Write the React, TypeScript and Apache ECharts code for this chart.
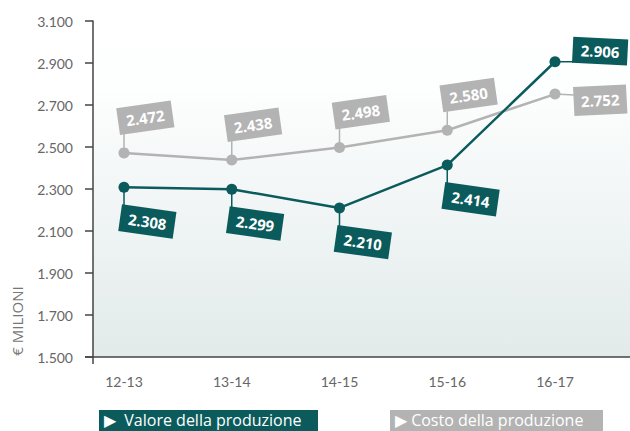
import React, { useEffect, useRef } from "react";
import * as echarts from "echarts";

const categories = ["12-13", "13-14", "14-15", "15-16", "16-17"];
const valoreProduzione = [2308, 2299, 2210, 2414, 2906];
const costoProduzione = [2472, 2438, 2498, 2580, 2752];
const yMin = 1500;
const yMax = 3100;
const yStep = 200;
const legendNames = ["Valore della produzione", "Costo della produzione"];
const axisName = "€ MILIONI";

const TEAL = "#0b5b5d";
const GRAY = "#b3b3b3";
const FONT = "Lato";
const FONT2 = "'Open Sans'";

const tealPlace = ["down", "down", "down", "down", "rightUp"];
const grayPlace = ["up", "up", "up", "up", "rightDown"];

const fmt = (v: number) => (v / 1000).toFixed(3);

function makeLabelSeries(values: number[], places: string[], color: string) {
  return {
    type: "custom",
    z: 1,
    silent: true,
    data: values.map((v, i) => [i, v]),
    renderItem: (params: any, api: any) => {
      const i = api.value(0);
      const v = api.value(1);
      const [px, py] = api.coord([i, v]);
      const place = places[i];
      const txt = fmt(v);
      const textStyle = {
        text: txt,
        fill: "#ffffff",
        font: `bold 15px ${FONT2}`,
        align: "center",
        verticalAlign: "middle",
      };
      let line: any;
      let box: any;
      if (place === "up") {
        line = { x1: px, y1: py, x2: px, y2: py - 19 };
        box = {
          x: px - 4, y: py - 18, rotation: 0.14,
          rect: { x: 0, y: -27, width: 55, height: 27 },
          tx: 27.5, ty: -13.5,
        };
      } else if (place === "down") {
        line = { x1: px, y1: py, x2: px, y2: py + 18 };
        box = {
          x: px - 2, y: py + 17, rotation: -0.14,
          rect: { x: 0, y: 0, width: 55, height: 27 },
          tx: 27.5, ty: 13.5,
        };
      } else if (place === "rightUp") {
        line = { x1: px, y1: py, x2: px + 18, y2: py };
        box = {
          x: px + 17, y: py + 1, rotation: -0.05,
          rect: { x: 0, y: -26, width: 55, height: 26 },
          tx: 27.5, ty: -13,
        };
      } else {
        line = { x1: px, y1: py, x2: px + 19, y2: py + 1 };
        box = {
          x: px + 18, y: py - 7, rotation: 0.05,
          rect: { x: 0, y: 0, width: 53, height: 29 },
          tx: 26.5, ty: 14.5,
        };
      }
      return {
        type: "group",
        children: [
          {
            type: "line",
            shape: line,
            style: { stroke: color, lineWidth: 1.5 },
          },
          {
            type: "group",
            x: box.x,
            y: box.y,
            rotation: box.rotation,
            children: [
              { type: "rect", shape: box.rect, style: { fill: color } },
              { type: "text", x: box.tx, y: box.ty, style: textStyle },
            ],
          },
        ],
      };
    },
  };
}

export default function App() {
  const ref = useRef<HTMLDivElement>(null);
  useEffect(() => {
    if (!ref.current) return;
    const chart = echarts.init(ref.current, null, { renderer: "svg" });
    const option: any = {
      animation: false,
      grid: { left: 124, right: 75, top: 21, bottom: 74, containLabel: false },
      xAxis: {
        type: "category",
        data: categories,
        boundaryGap: false,
        axisLine: { show: false },
        axisTick: { show: false },
        axisLabel: {
          color: "#666666",
          fontFamily: FONT,
          fontSize: 14,
          margin: 17,
        },
      },
      yAxis: {
        type: "value",
        min: yMin,
        max: yMax,
        interval: yStep,
        offset: 31,
        splitLine: { show: false },
        axisLine: { show: true, lineStyle: { color: "#444444", width: 1.5 } },
        axisTick: { show: true, length: 8, lineStyle: { color: "#444444", width: 1.5 } },
        axisLabel: {
          color: "#666666",
          fontFamily: FONT,
          fontSize: 14,
          margin: 20,
          formatter: (v: number) => fmt(v),
        },
      },
      graphic: [
        {
          type: "rect",
          z: -10,
          shape: { x: 93, y: 21, width: 537, height: 336 },
          style: {
            fill: new echarts.graphic.LinearGradient(0, 0, 0, 1, [
              { offset: 0, color: "#ffffff" },
              { offset: 0.2, color: "#fdfefe" },
              { offset: 1, color: "#e2eaea" },
            ]),
          },
        },
        {
          type: "line",
          z: 10,
          shape: { x1: 85, y1: 357, x2: 630, y2: 357 },
          style: { stroke: "#444444", lineWidth: 1.5 },
        },
        {
          type: "line",
          z: 10,
          shape: { x1: 93, y1: 357, x2: 93, y2: 364 },
          style: { stroke: "#444444", lineWidth: 1.5 },
        },
        {
          type: "text",
          x: 17,
          y: 321,
          rotation: Math.PI / 2,
          style: {
            text: axisName,
            fill: "#777777",
            font: `15px ${FONT2}`,
            align: "center",
            verticalAlign: "middle",
          },
        },
        {
          type: "rect",
          shape: { x: 99, y: 410, width: 219, height: 24 },
          style: { fill: TEAL },
        },
        {
          type: "text",
          x: 104,
          y: 420,
          style: {
            text: "▶  " + legendNames[0],
            fill: "#ffffff",
            font: `16px ${FONT2}`,
            verticalAlign: "middle",
          },
        },
        {
          type: "rect",
          shape: { x: 390, y: 410, width: 213, height: 24 },
          style: { fill: GRAY },
        },
        {
          type: "text",
          x: 395,
          y: 420,
          style: {
            text: "▶ " + legendNames[1],
            fill: "#ffffff",
            font: `16px ${FONT2}`,
            verticalAlign: "middle",
          },
        },
      ],
      series: [
        {
          name: legendNames[1],
          type: "line",
          z: 3,
          data: costoProduzione,
          symbol: "circle",
          symbolSize: 11,
          lineStyle: { color: GRAY, width: 2.5 },
          itemStyle: { color: GRAY },
        },
        {
          name: legendNames[0],
          type: "line",
          z: 4,
          data: valoreProduzione,
          symbol: "circle",
          symbolSize: 11,
          lineStyle: { color: TEAL, width: 2.5 },
          itemStyle: { color: TEAL },
        },
        makeLabelSeries(costoProduzione, grayPlace, GRAY),
        makeLabelSeries(valoreProduzione, tealPlace, TEAL),
      ],
    };
    chart.setOption(option);
    return () => chart.dispose();
  }, []);
  return (
    <div
      ref={ref}
      style={{ position: "absolute", left: 0, top: 0, width: 630, height: 431 }}
    />
  );
}
